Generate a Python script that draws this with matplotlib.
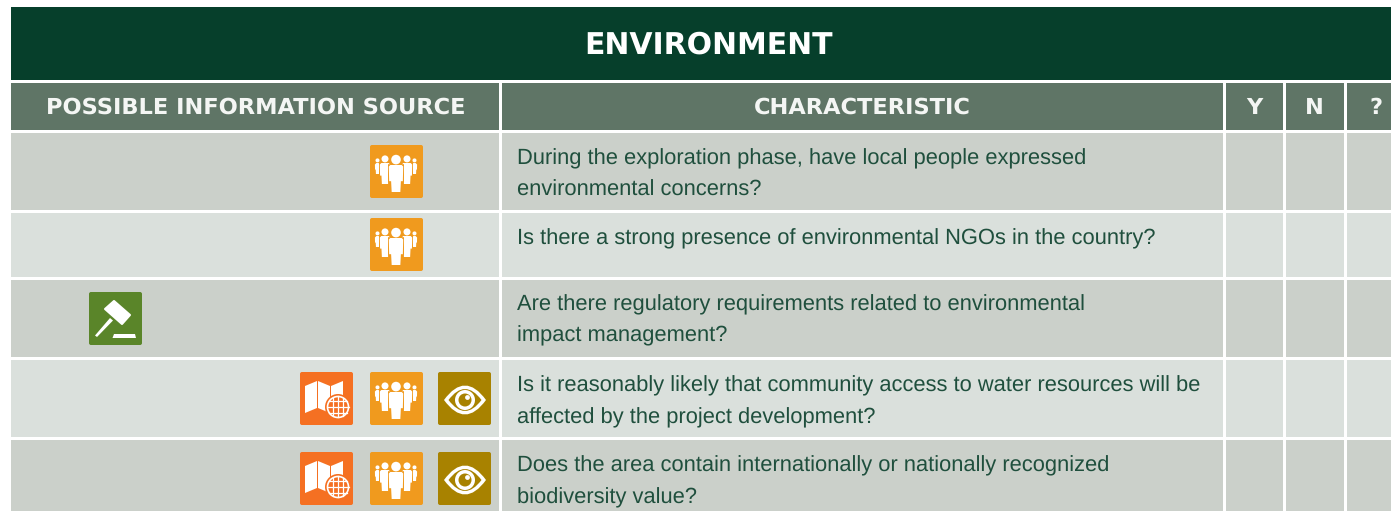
import matplotlib
matplotlib.use("Agg")
import matplotlib.pyplot as plt
from matplotlib.patches import Rectangle, FancyBboxPatch, Circle, Polygon, PathPatch
from matplotlib.path import Path

W, H = 1391, 511
plt.rcParams['font.family'] = ['Liberation Sans', 'DejaVu Sans']
plt.rcParams['text.hinting'] = 'no_hinting'

title = 'ENVIRONMENT'
headers = ['POSSIBLE INFORMATION SOURCE', 'CHARACTERISTIC', 'Y', 'N', '?']
questions = [
    ['During the exploration phase, have local people expressed', 'environmental concerns?'],
    ['Is there a strong presence of environmental NGOs in the country?'],
    ['Are there regulatory requirements related to environmental', 'impact management?'],
    ['Is it reasonably likely that community access to water resources will be', 'affected by the project development?'],
    ['Does the area contain internationally or nationally recognized', 'biodiversity value?'],
]
sources = [['people'], ['people'], ['gavel'], ['map', 'people', 'eye'], ['map', 'people', 'eye']]

# layout, in pixels of the page
col_left = [11, 502, 1226, 1286, 1347]
col_right = [499, 1223, 1283, 1344, 1391]
row_top = [133, 213, 280, 360, 440]
row_bot = [210, 277, 357, 437, 511]
row_fill = ['#cbd0ca', '#dae0dc', '#cbd0ca', '#dae0dc', '#cbd0ca']
icon_top = [145, 218, 292, 372, 452]
line_base = [[164, 196], [244], [310, 341], [391, 423], [471, 503]]
icon_x = {'gavel': 89, 'map': 300, 'people': 370, 'eye': 438}
icon_col = {'gavel': '#5a8529', 'map': '#f57022', 'people': '#f09a1e', 'eye': '#a88200'}

fig = plt.figure(figsize=(W / 100, H / 100), dpi=100)
ax = fig.add_axes([0, 0, 1, 1])
ax.set_xlim(0, W)
ax.set_ylim(H, 0)
ax.axis('off')


def box(x0, y0, x1, y1, color):
    ax.add_patch(Rectangle((x0, y0), x1 - x0, y1 - y0, fc=color, ec='none'))


def poly(x, y, pts, color='white', z=3, lw=0):
    ax.add_patch(Polygon([(x + a, y + b) for a, b in pts], fc=color, ec=color if lw else 'none',
                         lw=lw, joinstyle='round', zorder=z))


def disc(x, y, cx, cy, r, fc='white', ec='none', lw=0, z=3):
    ax.add_patch(Circle((x + cx, y + cy), r, fc=fc, ec=ec, lw=lw, zorder=z))


def almond(x, y, half_w, half_h, color, z=3):
    cx, cy = x + 27, y + 28
    verts = [(cx - half_w, cy), (cx, cy - 2 * half_h), (cx + half_w, cy),
             (cx, cy + 2 * half_h), (cx - half_w, cy)]
    codes = [Path.MOVETO] + [Path.CURVE3] * 4
    ax.add_patch(PathPatch(Path(verts, codes), fc=color, ec='none', zorder=z))


def person(x, y, cx, top, hw, h, head, z):
    c = icon_col['people']
    body = [(cx - hw, top + 1.5), (cx - hw + 1.5, top), (cx + hw - 1.5, top), (cx + hw, top + 1.5),
            (cx + hw * 0.95, top + h * 0.6), (cx + hw * 0.68, top + h * 0.6), (cx + hw * 0.6, top + h),
            (cx - hw * 0.6, top + h), (cx - hw * 0.68, top + h * 0.6), (cx - hw * 0.95, top + h * 0.6)]
    # orange halo keeps the figures apart
    poly(x, y, [(cx - hw - 0.8, top - 0.8), (cx + hw + 0.8, top - 0.8), (cx + hw + 0.8, top + h * 0.6),
                (cx + hw * 0.75, top + h + 0.8), (cx - hw * 0.75, top + h + 0.8), (cx - hw - 0.8, top + h * 0.6)], c, z)
    poly(x, y, body, 'white', z)
    disc(x, y, cx, top - head - 0.6, head, z=z)


def draw_people(x, y):
    person(x, y, 7.5, 18, 2.6, 11, 2, 3)
    person(x, y, 44.5, 18, 2.6, 11, 2, 3)
    person(x, y, 15, 18, 5.2, 21, 3.5, 4)
    person(x, y, 37, 18, 5.2, 21, 3.5, 4)
    person(x, y, 26, 20, 7.2, 27, 4.8, 5)


def draw_map(x, y):
    poly(x, y, [(5, 14), (17, 9), (17, 36), (5, 41)])
    poly(x, y, [(18, 9), (30, 14), (30, 41), (18, 36)])
    poly(x, y, [(31, 14), (43, 9), (43, 36), (31, 41)])
    c = icon_col['map']
    disc(x, y, 38, 35, 13, fc=c, z=4)
    disc(x, y, 38, 35, 10.5, fc=c, ec='white', lw=1.2, z=5)
    ax.plot([x + 27.5, x + 48.5], [y + 35, y + 35], color='white', lw=0.9, zorder=6)
    ax.plot([x + 29, x + 47], [y + 29, y + 29], color='white', lw=0.9, zorder=6)
    ax.plot([x + 29, x + 47], [y + 41, y + 41], color='white', lw=0.9, zorder=6)
    ax.plot([x + 38, x + 38], [y + 24.5, y + 45.5], color='white', lw=0.9, zorder=6)
    ax.plot([x + 33, x + 33], [y + 26, y + 44], color='white', lw=0.9, zorder=6)
    ax.plot([x + 43, x + 43], [y + 26, y + 44], color='white', lw=0.9, zorder=6)


def draw_eye(x, y):
    c = icon_col['eye']
    almond(x, y, 21, 14.5, 'white', 3)
    almond(x, y, 16.5, 11, c, 4)
    disc(x, y, 27, 28, 10, z=5)
    disc(x, y, 27, 28, 6.5, fc=c, z=6)
    disc(x, y, 29.5, 25.5, 2.4, z=7)


def draw_gavel(x, y):
    poly(x, y, [(25, 9), (41, 23), (33, 32), (16, 17)], lw=1.5)
    poly(x, y, [(21, 26), (24, 28.5), (8, 45), (6, 43.5)])
    poly(x, y, [(25, 42), (46, 42), (47, 46), (23.5, 46)])


draw = {'people': draw_people, 'map': draw_map, 'eye': draw_eye, 'gavel': draw_gavel}

# title band and header row
box(11, 7, W, 80, '#063f2b')
ax.text((580 + 837) / 2, 54, title, color='white', fontsize=21.5, family='DejaVu Sans',
        fontweight='bold', ha='center', va='baseline')
header_x = [256, 862, 1254, 1314, 1376]
for i, label in enumerate(headers):
    box(col_left[i], 83, col_right[i], 130, '#5f7566')
    ax.text(header_x[i], 114, label, color='#f4f6f4', fontsize=16.2, family='DejaVu Sans',
            fontweight='bold', ha='center', va='baseline')

# body rows
for r in range(len(questions)):
    for c in range(len(col_left)):
        box(col_left[c], row_top[r], col_right[c], row_bot[r], row_fill[r])
    for line, base in zip(questions[r], line_base[r]):
        ax.text(517, base, line, color='#1f4f3d', fontsize=15.75, ha='left', va='baseline')
    for kind in sources[r]:
        x, y = icon_x[kind], icon_top[r]
        ax.add_patch(FancyBboxPatch((x + 2, y + 2), 49, 49, boxstyle='round,pad=2,rounding_size=2',
                                    fc=icon_col[kind], ec='none', zorder=2))
        draw[kind](x, y)

fig.savefig('out.png', dpi=100, facecolor='white')
